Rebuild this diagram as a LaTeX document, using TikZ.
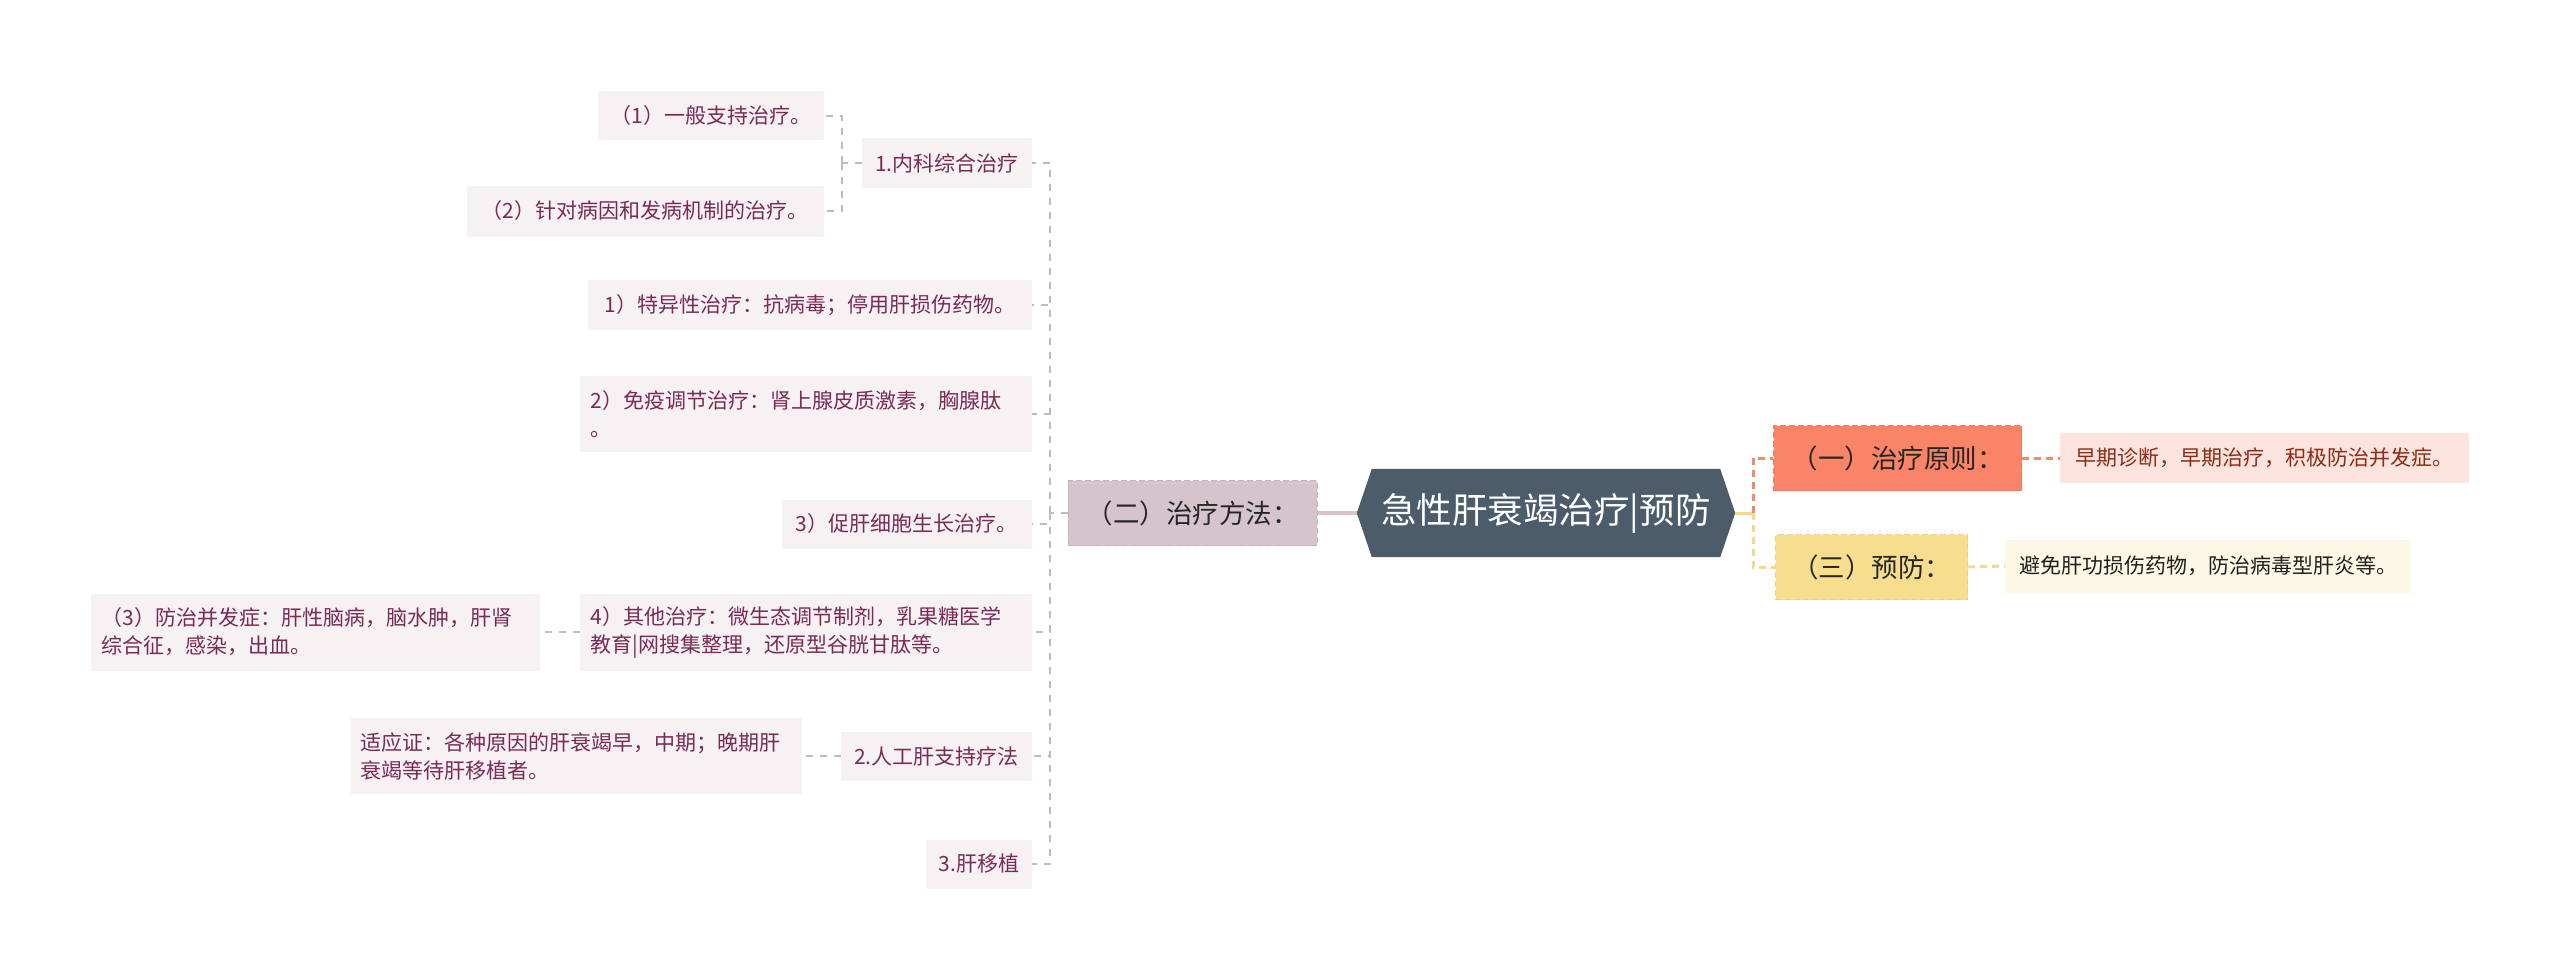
\documentclass[tikz,border=0pt]{standalone}
\usepackage{fontspec}
\setmainfont{Noto Sans CJK SC}
\usetikzlibrary{backgrounds}
\definecolor{rootfill}{HTML}{4C5C6B}
\definecolor{onefill}{HTML}{FA8468}
\definecolor{onedraw}{HTML}{F07A5C}
\definecolor{oneleaf}{HTML}{FDE4DE}
\definecolor{onetext}{HTML}{8F2B14}
\definecolor{onedash}{HTML}{EE8A72}
\definecolor{threefill}{HTML}{F7DE8E}
\definecolor{threedraw}{HTML}{EFD37C}
\definecolor{threeleaf}{HTML}{FDF8E6}
\definecolor{threedash}{HTML}{F3D98E}
\definecolor{twofill}{HTML}{D6C4CC}
\definecolor{twodraw}{HTML}{C6B2BB}
\definecolor{twoline}{HTML}{D7C4CC}
\definecolor{leaffill}{HTML}{F6F1F3}
\definecolor{leaftext}{HTML}{7A2B55}
\definecolor{graydash}{HTML}{BDBDBD}
\tikzset{
  leaf/.style={fill=leaffill, text=leaftext, font=\fontsize{21}{28}\selectfont,
    inner xsep=11pt, inner ysep=0pt, anchor=east, minimum height=49pt},
  leaftwo/.style={leaf, align=left, minimum height=77pt},
  branch/.style={font=\fontsize{26.5}{32}\selectfont, text=black!85, inner sep=0pt,
    minimum height=65pt, dashed, dash pattern=on 6pt off 3pt, line width=1.2pt},
  gline/.style={draw=graydash, line width=2.1pt, dash pattern=on 7pt off 7pt},
  oline/.style={draw=onedash, line width=3pt, dash pattern=on 7pt off 5pt},
  yline/.style={draw=threedash, line width=3pt, dash pattern=on 7pt off 5pt},
}
\begin{document}
\begin{tikzpicture}[x=1pt,y=-1pt]
\useasboundingbox (0,0) rectangle (2560,979);

% root
\node[text=white, font=\fontsize{35.5}{40}\selectfont, minimum width=348pt, minimum height=88pt, inner sep=0pt]
  (root) at (1546,513) {急性肝衰竭治疗|预防};
\coordinate (rootL) at ([xshift=-15pt]root.west);
\coordinate (rootR) at ([xshift=15pt]root.east);
\begin{scope}[on background layer]
\fill[rootfill] (rootL) -- (root.north west) -- (root.north east) -- (rootR) -- (root.south east) -- (root.south west) -- cycle;
\end{scope}

% right side
\node[branch, fill=onefill, draw=onedraw, minimum width=248pt, anchor=west] (c1) at (1773,458) {（一）治疗原则：};
\node[branch, fill=threefill, draw=threedraw, minimum width=192pt, anchor=west] (c3) at (1775,567) {（三）预防：};
\node[fill=oneleaf, text=onetext, font=\fontsize{21}{28}\selectfont, inner sep=0pt, minimum width=409pt, minimum height=50pt, anchor=west] (l1) at (2060,458) {早期诊断，早期治疗，积极防治并发症。};
\node[fill=threeleaf, text=black!88, font=\fontsize{21}{28}\selectfont, inner sep=0pt, minimum width=406pt, minimum height=53pt, anchor=west] (l3) at (2005,566) {避免肝功损伤药物，防治病毒型肝炎等。};

\coordinate (rspine) at (1753,513);
\draw[threedash, line width=3pt] (rootR) -- (rspine);
\draw[oline] (rspine) |- (c1.west);
\draw[yline] (rspine) |- (c3.west);
\draw[oline] (c1.east) -- (l1.west);
\draw[yline] (c3.east) -- (l3.west);

% left side
\node[branch, fill=twofill, draw=twodraw, minimum width=249pt, anchor=east] (c2) at (1318,513) {（二）治疗方法：};
\draw[twoline, line width=3.5pt] (c2.east) -- (rootL);

\node[leaf, minimum width=170pt] (n1) at (1032,163) {1.内科综合治疗};
\node[leaf, minimum width=226pt] (a1) at (824,116) {（1）一般支持治疗。};
\node[leaf, minimum width=357pt, minimum height=51pt] (a2) at (824,211) {（2）针对病因和发病机制的治疗。};
\node[leaf, minimum width=444pt, minimum height=50pt] (b1) at (1032,305) {1）特异性治疗：抗病毒；停用肝损伤药物。};
\node[leaftwo, text width=430pt, inner xsep=11pt, minimum height=76pt] (b2) at (1032,414) {2）免疫调节治疗：肾上腺皮质激素，胸腺肽\\。};
\node[leaf, minimum width=250pt] (b3) at (1032,524) {3）促肝细胞生长治疗。};
\node[leaftwo, text width=430pt, inner xsep=11pt] (b4) at (1032,632) {4）其他治疗：微生态调节制剂，乳果糖医学\\教育|网搜集整理，还原型谷胱甘肽等。};
\node[leaftwo, text width=427pt, inner xsep=11pt] (d4) at (540,632) {（3）防治并发症：肝性脑病，脑水肿，肝肾\\综合征，感染，出血。};
\node[leaf, minimum width=191pt] (n2) at (1032,756) {2.人工肝支持疗法};
\node[leaftwo, text width=431pt, inner xsep=10pt, minimum height=76pt] (d2) at (802,756) {适应证：各种原因的肝衰竭早，中期；晚期肝\\衰竭等待肝移植者。};
\node[leaf, minimum width=106pt] (n3) at (1032,864) {3.肝移植};

\coordinate (lspine) at (1050,513);
\draw[gline] (c2.west) -- (lspine);
\foreach \n in {n1,b1,b2,b3,b4,n2,n3}{
  \draw[gline] (lspine) |- (\n.east);
}
\coordinate (s1) at (842,163);
\draw[gline] (n1.west) -- (s1);
\draw[gline] (s1) |- (a1.east);
\draw[gline] (s1) |- (a2.east);
\draw[gline] (b4.west) -- (d4.east);
\draw[gline] (n2.west) -- (d2.east);
\end{tikzpicture}
\end{document}
